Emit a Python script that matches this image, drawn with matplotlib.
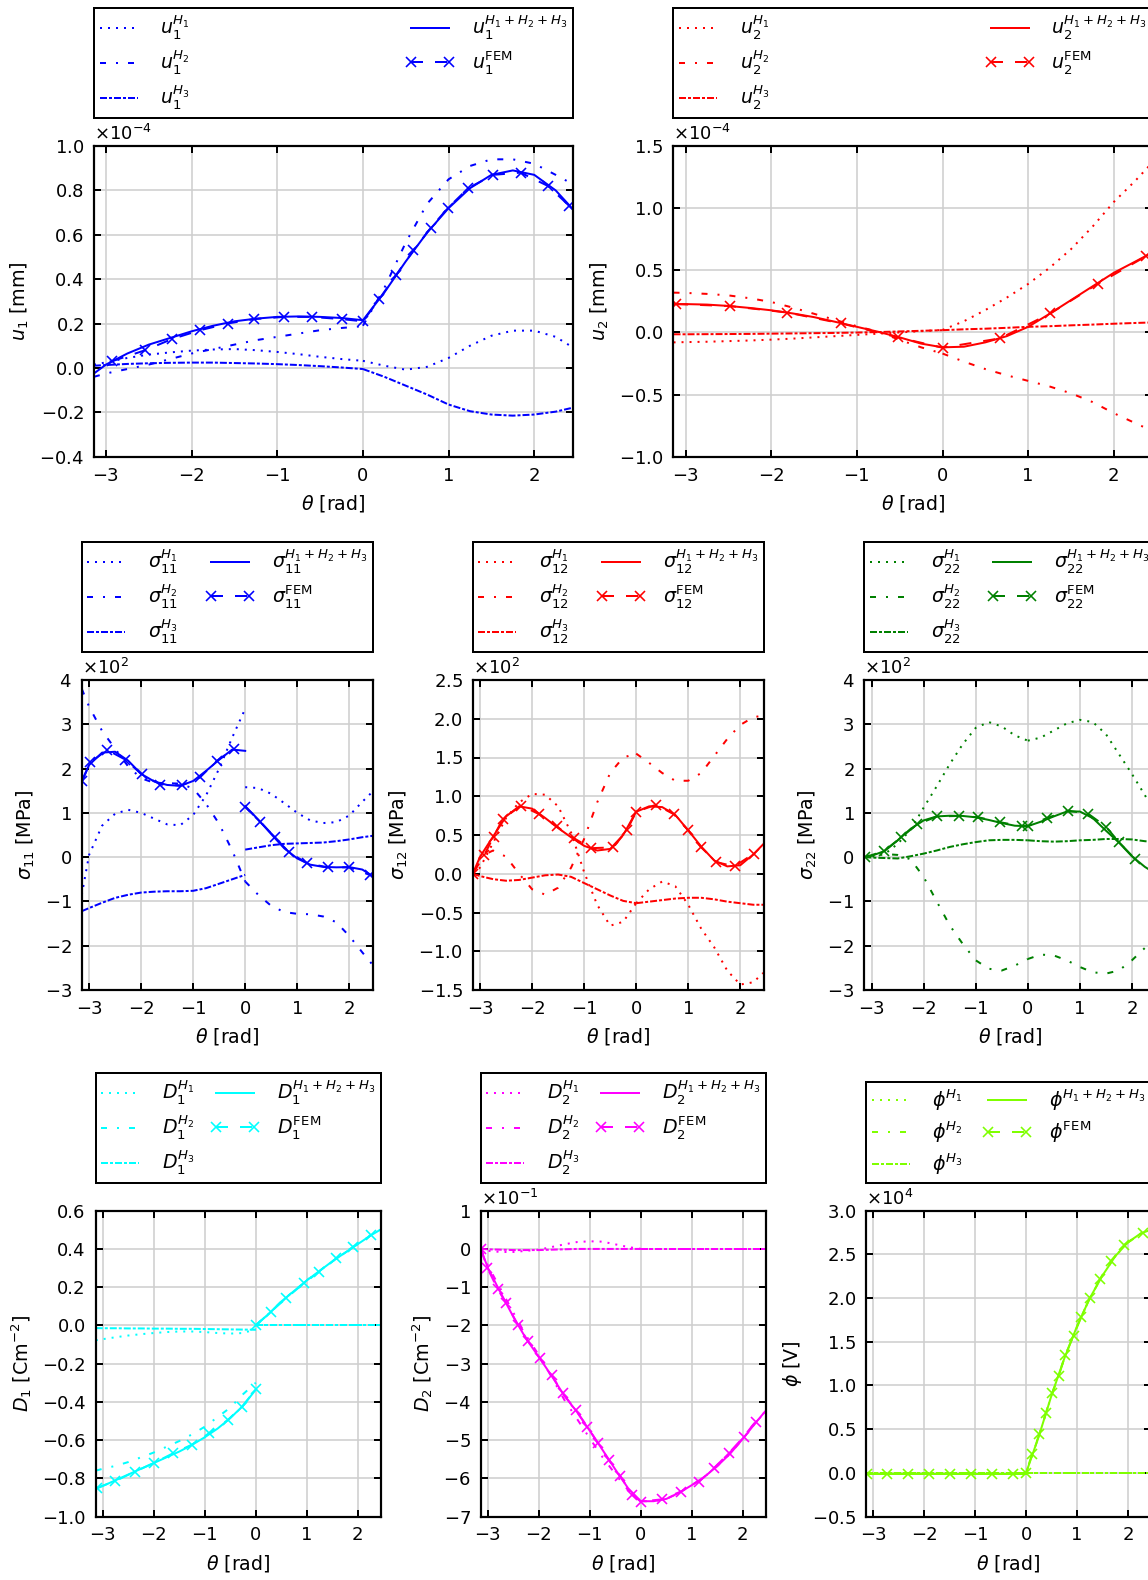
import matplotlib
matplotlib.use("Agg")
import matplotlib.pyplot as plt
import numpy as np
from matplotlib.legend_handler import HandlerLine2D
from matplotlib.lines import Line2D

W, H, DPI = 1148, 1580, 144
nan = np.nan

plt.rcParams.update({
    "font.family": "DejaVu Sans",
    "mathtext.fontset": "dejavusans",
    "font.size": 9,
    "axes.linewidth": 1.1,
    "xtick.direction": "in", "ytick.direction": "in",
    "xtick.top": True, "ytick.right": True,
    "xtick.major.size": 3.5, "ytick.major.size": 3.5,
    "xtick.major.width": 1.0, "ytick.major.width": 1.0,
    "xtick.major.pad": 5, "ytick.major.pad": 5,
    "grid.color": "#cfcfcf", "grid.linewidth": 0.8, "grid.linestyle": "-",
    "axes.axisbelow": True,
})

# theta samples: first 14 on [-pi, 0-], last 11 on [0+, 2.44]
TH = [-3.14, -3.0, -2.75, -2.5, -2.25, -2.0, -1.75, -1.5, -1.25, -1.0, -0.75, -0.5, -0.25, 0.0,
      0.0, 0.25, 0.5, 0.75, 1.0, 1.25, 1.5, 1.75, 2.0, 2.25, 2.44]
NNEG = 14

# ---- u1 [1e-4 mm]
U1_H1 = [0.015, 0.025, 0.045, 0.06, 0.07, 0.078, 0.083, 0.085, 0.08, 0.072, 0.062, 0.05, 0.04, 0.032,
         0.032, 0.01, -0.008, 0.005, 0.045, 0.1, 0.145, 0.168, 0.168, 0.14, 0.095]
U1_H2 = [-0.04, -0.025, -0.005, 0.015, 0.04, 0.065, 0.085, 0.105, 0.125, 0.14, 0.155, 0.17, 0.18, 0.188,
         0.19, 0.36, 0.565, 0.74, 0.85, 0.91, 0.94, 0.94, 0.92, 0.87, 0.83]
U1_H3 = [0.01, 0.013, 0.018, 0.021, 0.023, 0.024, 0.024, 0.022, 0.02, 0.017, 0.013, 0.008, 0.002, -0.005,
         -0.005, -0.04, -0.08, -0.12, -0.165, -0.195, -0.21, -0.215, -0.21, -0.197, -0.18]
U1_TOT = [-0.025, 0.015, 0.065, 0.105, 0.135, 0.165, 0.19, 0.21, 0.222, 0.23, 0.232, 0.23, 0.225, 0.215,
          0.215, 0.34, 0.48, 0.61, 0.72, 0.81, 0.87, 0.89, 0.87, 0.80, 0.72]
U1_FEM_TH = [-2.93, -2.54, -2.23, -1.9, -1.58, -1.27, -0.92, -0.6, -0.25, 0.0,
             0.19, 0.39, 0.59, 0.79, 0.99, 1.23, 1.52, 1.84, 2.16, 2.41]
U1_FEM = [0.03, 0.08, 0.13, 0.17, 0.2, 0.22, 0.23, 0.23, 0.22, 0.21,
          0.31, 0.42, 0.53, 0.63, 0.72, 0.81, 0.87, 0.88, 0.82, 0.73]

# ---- u2 [1e-4 mm]
U2_H1 = [-0.08, -0.078, -0.075, -0.07, -0.065, -0.058, -0.05, -0.04, -0.03, -0.02, -0.01, 0.0, 0.01, 0.02,
         0.02, 0.09, 0.18, 0.28, 0.39, 0.52, 0.67, 0.85, 1.05, 1.22, 1.36]
U2_H2 = [0.32, 0.318, 0.31, 0.298, 0.275, 0.245, 0.2, 0.15, 0.1, 0.05, 0.005, -0.06, -0.12, -0.17,
         -0.17, -0.235, -0.295, -0.345, -0.39, -0.435, -0.49, -0.56, -0.65, -0.73, -0.79]
U2_H3 = [-0.015, -0.015, -0.014, -0.013, -0.012, -0.01, -0.008, -0.006, -0.004, -0.001, 0.003, 0.008, 0.013, 0.018,
         0.018, 0.025, 0.03, 0.037, 0.045, 0.05, 0.057, 0.063, 0.07, 0.076, 0.08]
U2_TOT = [0.228, 0.228, 0.224, 0.213, 0.197, 0.178, 0.153, 0.123, 0.085, 0.045, 0.005, -0.04, -0.09, -0.12,
          -0.12, -0.115, -0.08, -0.03, 0.045, 0.15, 0.26, 0.37, 0.48, 0.57, 0.64]
U2_FEM_TH = [-3.11, -2.48, -1.81, -1.18, -0.52, 0.0, 0.67, 1.26, 1.81, 2.38]
U2_FEM = [0.228, 0.212, 0.16, 0.072, -0.04, -0.123, -0.048, 0.153, 0.39, 0.615]

# ---- sigma11 [1e2 MPa]
S11_H1 = [-0.85, 0.05, 0.71, 0.98, 1.07, 1.0, 0.87, 0.74, 0.72, 0.95, 1.4, 2.0, 2.7, 3.35,
          1.58, 1.56, 1.43, 1.22, 1.0, 0.83, 0.77, 0.79, 0.94, 1.25, 1.47]
S11_H2 = [3.8, 3.4, 2.85, 2.45, 2.05, 1.78, 1.68, 1.67, 1.66, 1.55, 1.2, 0.75, 0.15, -0.55,
          -0.55, -0.85, -1.1, -1.24, -1.28, -1.29, -1.34, -1.47, -1.78, -2.15, -2.42]
S11_H3 = [-1.22, -1.15, -1.03, -0.92, -0.85, -0.8, -0.78, -0.77, -0.77, -0.76, -0.7, -0.6, -0.5, -0.4,
          0.17, 0.22, 0.27, 0.3, 0.31, 0.32, 0.33, 0.36, 0.4, 0.45, 0.48]
S11_TOT = [1.72, 2.08, 2.36, 2.38, 2.18, 1.88, 1.71, 1.63, 1.61, 1.72, 1.95, 2.2, 2.43, 2.4,
           1.15, 0.85, 0.52, 0.2, -0.03, -0.17, -0.22, -0.23, -0.225, -0.28, -0.42]
S11_FEM_TH = [-3.13, -2.98, -2.65, -2.3, -1.99, -1.63, -1.22, -0.87, -0.55, -0.21, nan,
              0.0, 0.29, 0.57, 0.84, 1.19, 1.59, 2.0, 2.39]
S11_FEM = [1.72, 2.14, 2.42, 2.2, 1.87, 1.64, 1.62, 1.8, 2.17, 2.45, nan,
           1.14, 0.8, 0.45, 0.11, -0.14, -0.23, -0.23, -0.4]

# ---- sigma12 [1e2 MPa]
S12_H1 = [0.0, 0.08, 0.4, 0.72, 0.92, 1.03, 1.02, 0.87, 0.53, 0.02, -0.4, -0.67, -0.62, -0.38,
          -0.38, -0.2, -0.1, -0.16, -0.4, -0.71, -0.95, -1.25, -1.43, -1.4, -1.28]
S12_H2 = [0.0, 0.22, 0.3, 0.22, 0.0, -0.2, -0.27, -0.18, 0.08, 0.45, 0.92, 1.3, 1.5, 1.55,
          1.55, 1.43, 1.3, 1.2, 1.2, 1.3, 1.52, 1.74, 1.92, 2.02, 2.04]
S12_H3 = [0.0, -0.03, -0.07, -0.09, -0.08, -0.05, -0.02, -0.01, -0.04, -0.12, -0.2, -0.28, -0.35, -0.38,
          -0.38, -0.36, -0.34, -0.32, -0.31, -0.31, -0.33, -0.36, -0.38, -0.4, -0.4]
S12_TOT = [0.0, 0.22, 0.48, 0.74, 0.87, 0.84, 0.72, 0.59, 0.47, 0.36, 0.3, 0.32, 0.5, 0.8,
           0.8, 0.87, 0.86, 0.76, 0.56, 0.35, 0.17, 0.095, 0.11, 0.25, 0.38]
S12_FEM_TH = [-3.14, -2.92, -2.74, -2.56, -2.21, -1.87, -1.53, -1.2, -0.87, -0.44, -0.18, 0.0,
              0.38, 0.72, 1.0, 1.25, 1.54, 1.89, 2.26]
S12_FEM = [0.0, 0.24, 0.48, 0.71, 0.88, 0.77, 0.61, 0.46, 0.33, 0.34, 0.56, 0.8,
           0.89, 0.77, 0.56, 0.34, 0.15, 0.095, 0.26]

# ---- sigma22 [1e2 MPa]
S22_H1 = [0.0, 0.01, 0.07, 0.3, 0.62, 1.12, 1.6, 2.1, 2.55, 2.92, 3.05, 2.95, 2.75, 2.63,
          2.63, 2.7, 2.86, 3.02, 3.1, 3.05, 2.78, 2.33, 1.88, 1.4, 1.0]
S22_H2 = [0.0, 0.04, 0.07, 0.05, -0.05, -0.45, -1.0, -1.54, -1.96, -2.33, -2.52, -2.56, -2.45, -2.3,
          -2.3, -2.2, -2.22, -2.33, -2.48, -2.6, -2.63, -2.56, -2.33, -2.05, -1.82]
S22_H3 = [0.0, -0.01, -0.02, -0.03, 0.02, 0.08, 0.15, 0.23, 0.29, 0.34, 0.38, 0.39, 0.39, 0.38,
          0.38, 0.36, 0.35, 0.36, 0.38, 0.39, 0.41, 0.41, 0.4, 0.36, 0.34]
S22_TOT = [0.0, 0.03, 0.14, 0.38, 0.64, 0.83, 0.92, 0.935, 0.93, 0.9, 0.84, 0.77, 0.71, 0.7,
           0.7, 0.8, 0.92, 1.03, 1.03, 0.88, 0.6, 0.33, 0.02, -0.22, -0.36]
S22_FEM_TH = [-3.13, -2.77, -2.43, -2.13, -1.74, -1.33, -0.95, -0.54, -0.12, 0.0,
              0.36, 0.78, 1.16, 1.5, 1.75, 2.06]
S22_FEM = [0.0, 0.13, 0.45, 0.74, 0.92, 0.93, 0.9, 0.79, 0.7, 0.7,
           0.88, 1.05, 0.98, 0.69, 0.34, -0.04]

# ---- D1 [C m^-2]
D1_H1 = [-0.078, -0.072, -0.062, -0.053, -0.046, -0.04, -0.035, -0.032, -0.032, -0.035, -0.04, -0.043, -0.04, -0.02,
         0.0, 0.0, 0.0, 0.0, 0.0, 0.0, 0.0, 0.0, 0.0, 0.0, 0.0]
D1_H2 = [-0.76, -0.75, -0.735, -0.715, -0.69, -0.665, -0.635, -0.605, -0.57, -0.53, -0.48, -0.43, -0.36, -0.3,
         0.0, 0.06, 0.125, 0.18, 0.235, 0.285, 0.335, 0.38, 0.425, 0.47, 0.5]
D1_H3 = [-0.014, -0.015, -0.015, -0.016, -0.016, -0.017, -0.017, -0.018, -0.018, -0.019, -0.02, -0.021, -0.022, -0.023,
         0.0, 0.0, 0.0, 0.0, 0.0, 0.0, 0.0, 0.0, 0.0, 0.0, 0.0]
D1_TOT = [-0.856, -0.84, -0.81, -0.78, -0.75, -0.72, -0.69, -0.66, -0.625, -0.585, -0.54, -0.485, -0.42, -0.336,
          0.0, 0.06, 0.125, 0.18, 0.235, 0.285, 0.335, 0.38, 0.425, 0.47, 0.5]
D1_FEM_TH = [-3.12, -2.76, -2.37, -2.0, -1.63, -1.26, -0.92, -0.55, -0.27, 0.0, nan,
             0.0, 0.29, 0.6, 0.94, 1.24, 1.58, 1.9, 2.26]
D1_FEM = [-0.85, -0.815, -0.765, -0.72, -0.67, -0.625, -0.565, -0.495, -0.425, -0.335, nan,
          0.0, 0.07, 0.143, 0.22, 0.28, 0.35, 0.41, 0.474]

# ---- D2 [1e-1 C m^-2]
D2_H1 = [0.0, -0.05, -0.08, -0.08, -0.05, -0.02, 0.05, 0.12, 0.18, 0.2, 0.19, 0.12, 0.05, 0.0,
         0.0, 0.0, 0.0, 0.0, 0.0, 0.0, 0.0, 0.0, 0.0, 0.0, 0.0]
D2_H2 = [0.0, -0.44, -1.05, -1.67, -2.27, -2.78, -3.35, -3.95, -4.45, -4.96, -5.45, -5.89, -6.31, -6.6,
         -6.6, -6.6, -6.54, -6.38, -6.18, -5.96, -5.68, -5.36, -4.97, -4.55, -4.25]
D2_H3 = [0.0, -0.01, -0.02, -0.03, -0.03, -0.03, -0.02, -0.01, 0.0, 0.0, 0.0, 0.0, 0.0, 0.0,
         0.0, 0.0, 0.0, 0.0, 0.0, 0.0, 0.0, 0.0, 0.0, 0.0, 0.0]
D2_TOT = [0.0, -0.5, -1.15, -1.78, -2.35, -2.83, -3.32, -3.84, -4.27, -4.76, -5.26, -5.77, -6.26, -6.6,
          -6.6, -6.6, -6.54, -6.38, -6.18, -5.96, -5.68, -5.36, -4.97, -4.55, -4.25]
D2_FEM_TH = [-3.14, -3.01, -2.81, -2.64, -2.41, -2.21, -1.98, -1.75, -1.53, -1.28, -1.05, -0.84, -0.63, -0.4, -0.17,
             0.0, 0.42, 0.78, 1.14, 1.43, 1.73, 2.02, 2.25]
D2_FEM = [0.0, -0.5, -1.05, -1.42, -1.99, -2.42, -2.86, -3.3, -3.78, -4.21, -4.65, -5.08, -5.52, -5.95, -6.43,
          -6.61, -6.55, -6.35, -6.09, -5.74, -5.34, -4.91, -4.52]

# ---- phi [1e4 V]
PHI_H1 = [-0.005, -0.005, -0.005, -0.005, -0.005, -0.005, -0.005, -0.005, -0.005, -0.005, -0.005, -0.005, -0.005, -0.005,
          0.0, 0.0, 0.0, 0.0, 0.0, 0.0, 0.0, 0.0, 0.0, 0.0, 0.0]
PHI_H2 = [-0.005, -0.005, -0.005, -0.005, -0.005, -0.005, -0.005, -0.005, -0.005, -0.005, -0.005, -0.005, -0.005, -0.005,
          0.0, 0.42, 0.89, 1.31, 1.68, 2.0, 2.26, 2.48, 2.64, 2.74, 2.78]
PHI_H3 = [0.0, 0.0, 0.0, 0.0, 0.0, 0.0, 0.0, 0.0, 0.0, 0.0, 0.0, 0.0, 0.0, 0.0,
          0.0, 0.0, 0.0, 0.0, 0.0, 0.0, 0.0, 0.0, 0.0, 0.0, 0.0]
PHI_TOT = [-0.01, -0.01, -0.01, -0.01, -0.01, -0.01, -0.01, -0.01, -0.01, -0.01, -0.01, -0.01, -0.01, -0.01,
           0.0, 0.42, 0.89, 1.31, 1.68, 2.0, 2.26, 2.48, 2.64, 2.74, 2.78]
PHI_FEM_TH = [-3.12, -2.73, -2.32, -1.91, -1.5, -1.09, -0.67, -0.26, 0.0, 0.12, 0.26, 0.39, 0.51, 0.64,
              0.77, 0.93, 1.08, 1.25, 1.45, 1.67, 1.93, 2.29]
PHI_FEM = [-0.01, -0.01, -0.01, -0.01, -0.01, -0.01, -0.01, -0.01, 0.0, 0.22, 0.44, 0.69, 0.91, 1.11,
           1.35, 1.57, 1.78, 2.0, 2.22, 2.43, 2.61, 2.75]

STYLE_H1 = (0, (1, 3))
STYLE_H2 = (0, (3, 5, 1, 5))
STYLE_H3 = (0, (3.5, 1.0, 1.5, 1.0))
STYLE_FEM = (0, (6, 6))

# (axes box in px: left, top, width, height), colour, symbol, ylabel,
# scale, ylim, ytick step, data
PANELS = [
    ((93.8, 146, 479, 310.7), "blue", "u_1", r"$u_1$ [mm]", 1e-4, (-0.4, 1.0), 0.2,
     (U1_H1, U1_H2, U1_H3, U1_TOT, U1_FEM_TH, U1_FEM)),
    ((673.4, 146, 479, 310.7), "red", "u_2", r"$u_2$ [mm]", 1e-4, (-1.0, 1.5), 0.5,
     (U2_H1, U2_H2, U2_H3, U2_TOT, U2_FEM_TH, U2_FEM)),
    ((81.7, 680, 291, 310), "blue", r"\sigma_{11}", r"$\sigma_{11}$ [MPa]", 1e2, (-3, 4), 1,
     (S11_H1, S11_H2, S11_H3, S11_TOT, S11_FEM_TH, S11_FEM)),
    ((472.7, 680, 291, 310), "red", r"\sigma_{12}", r"$\sigma_{12}$ [MPa]", 1e2, (-1.5, 2.5), 0.5,
     (S12_H1, S12_H2, S12_H3, S12_TOT, S12_FEM_TH, S12_FEM)),
    ((864.3, 680, 291, 310), "green", r"\sigma_{22}", r"$\sigma_{22}$ [MPa]", 1e2, (-3, 4), 1,
     (S22_H1, S22_H2, S22_H3, S22_TOT, S22_FEM_TH, S22_FEM)),
    ((95.7, 1210.7, 285, 305.8), "cyan", "D_1", r"$D_1$ [Cm$^{-2}$]", 1.0, (-1.0, 0.6), 0.2,
     (D1_H1, D1_H2, D1_H3, D1_TOT, D1_FEM_TH, D1_FEM)),
    ((480.7, 1210.7, 285, 305.8), "magenta", "D_2", r"$D_2$ [Cm$^{-2}$]", 1e-1, (-7, 1), 1,
     (D2_H1, D2_H2, D2_H3, D2_TOT, D2_FEM_TH, D2_FEM)),
    ((866.0, 1210.7, 285, 305.8), "#7fff00", r"\phi", r"$\phi$ [V]", 1e4, (-0.5, 3.0), 0.5,
     (PHI_H1, PHI_H2, PHI_H3, PHI_TOT, PHI_FEM_TH, PHI_FEM)),
]


def draw_panel(fig, box, color, sym, ylabel, scale, ylim, ystep, data):
    left, top, width, height = box
    ax = fig.add_axes([left / W, 1 - (top + height) / H, width / W, height / H])
    h1, h2, h3, tot, fem_th, fem = data
    th = np.array(TH)

    handles = []
    for values, style in ((h1, STYLE_H1), (h2, STYLE_H2), (h3, STYLE_H3), (tot, "-")):
        y = np.array(values) * scale
        line, = ax.plot(th[:NNEG], y[:NNEG], color=color, linestyle=style, linewidth=1.0)
        ax.plot(th[NNEG:], y[NNEG:], color=color, linestyle=style, linewidth=1.0)
        handles.append(line)
    fem_line, = ax.plot(np.array(fem_th), np.array(fem) * scale, color=color,
                        linestyle=STYLE_FEM, linewidth=1.0, marker="x",
                        markersize=5, markeredgewidth=0.8)
    handles.append(fem_line)

    labels = [rf"${sym}^{{H_1}}$", rf"${sym}^{{H_2}}$", rf"${sym}^{{H_3}}$",
              rf"${sym}^{{H_1+H_2+H_3}}$", rf"${sym}^{{\mathrm{{FEM}}}}$"]

    ax.set_xlim(-np.pi, 2.45)
    ax.set_xticks(range(-3, 3))
    ax.set_ylim(ylim[0] * scale, ylim[1] * scale)
    ax.set_yticks(np.arange(ylim[0], ylim[1] + ystep / 2, ystep) * scale)
    if scale != 1.0:
        ax.ticklabel_format(axis="y", style="sci", scilimits=(0, 0), useMathText=True, useOffset=False)
    ax.grid(True)
    ax.set_xlabel(r"$\theta$ [rad]", fontsize=9.5)
    ax.set_ylabel(ylabel, fontsize=9.5)

    gap = 28 / height
    leg = ax.legend(handles, labels, loc="lower left", bbox_to_anchor=(0, 1 + gap, 1, 0.2),
                    mode="expand", ncol=2, borderaxespad=0, numpoints=2, handlelength=2.0,
                    handletextpad=1.2, fancybox=False, framealpha=1, edgecolor="black",
                    fontsize=9.5, labelspacing=0.35, borderpad=0.3,
                    handler_map={Line2D: HandlerLine2D(marker_pad=0.0)})
    leg.get_frame().set_linewidth(1.0)
    return ax


fig = plt.figure(figsize=(W / DPI, H / DPI), dpi=DPI)
for box, color, sym, ylabel, scale, ylim, ystep, data in PANELS:
    draw_panel(fig, box, color, sym, ylabel, scale, ylim, ystep, data)

fig.savefig("out.png", dpi=DPI)
